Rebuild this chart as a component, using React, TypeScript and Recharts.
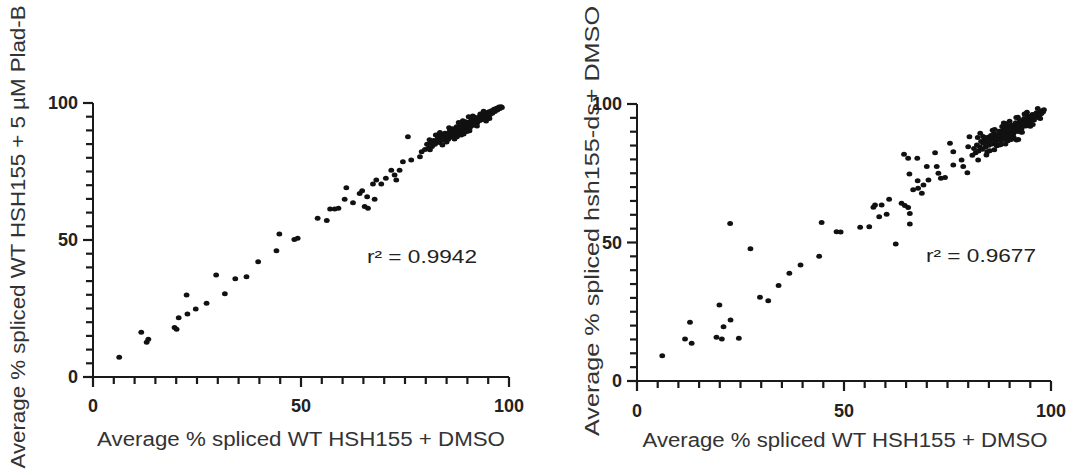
import React from 'react';
import {
  ScatterChart,
  Scatter,
  XAxis,
  YAxis,
  Customized,
} from 'recharts';

// left panel: WT + DMSO (x) vs WT + 5 uM Plad-B (y)
const dmsoA = [
  6.3, 11.6, 12.9, 13.3, 19.6, 20.1, 20.6, 22.5, 22.7, 24.7, 27.3, 29.6, 31.7, 34.2, 36.9, 39.7,
  44.1, 44.8, 48.4, 49.2, 54.0, 56.2, 57.0, 58.1, 59.0, 60.9, 60.5, 62.5, 64.1, 64.7, 65.3, 66.1,
  65.9, 67.7, 67.3, 68.1, 69.3, 70.4, 71.7, 72.5, 72.9, 73.7, 75.7, 74.5, 76.5, 78.6, 79.0,
  79.8, 80.3, 80.7, 81.2, 81.5, 81.9, 82.2, 82.6, 82.9, 83.3, 83.6, 83.8, 84.1, 84.4, 84.6, 84.9,
  85.2, 85.4, 85.7, 85.9, 86.1, 86.3, 86.6, 86.8, 87.0, 87.2, 87.4, 87.6, 87.8, 88.0, 88.2, 88.4,
  88.6, 88.8, 89.0, 89.2, 89.4, 89.6, 89.8, 90.0, 90.2, 90.4, 90.6, 90.8, 91.0, 91.2, 91.4, 91.6,
  91.8, 92.0, 92.2, 92.4, 92.6, 92.8, 93.0, 93.2, 93.4, 93.6, 93.8, 94.0, 94.2, 94.4, 94.6, 94.8,
  95.0, 95.2, 95.4, 95.6, 95.8, 96.0, 96.2, 96.4, 96.6, 96.8, 97.0, 97.2, 97.4, 97.6, 97.8, 98.1,
  98.3, 86.5, 87.5, 88.5, 89.5, 90.5, 91.5, 89.1, 90.9, 92.1, 93.1, 85.0, 83.0, 81.0,
  82.4, 84.0, 85.6, 86.9, 88.9, 89.9, 91.3, 92.3, 93.9, 95.3, 80.9, 87.9, 90.3, 94.5, 83.4,
];
const pladB = [
  7.2, 16.3, 12.7, 13.8, 18.1, 17.4, 21.6, 29.9, 23.0, 24.8, 26.9, 37.2, 30.4, 35.9, 36.6, 42.1,
  46.1, 52.2, 50.2, 50.6, 57.9, 57.1, 61.3, 61.3, 61.6, 69.1, 64.9, 63.6, 67.0, 68.0, 62.2, 61.6,
  65.8, 64.9, 70.4, 71.9, 70.4, 72.5, 75.5, 73.7, 71.9, 75.5, 87.7, 78.6, 79.2, 80.4, 82.2,
  83.0, 84.9, 83.6, 85.4, 84.1, 86.3, 84.9, 85.8, 87.2, 85.6, 86.9, 88.1, 86.4, 87.8, 89.0, 87.1,
  88.6, 86.8, 89.5, 88.2, 87.6, 90.1, 88.9, 87.9, 90.4, 89.2, 91.3, 88.6, 90.0, 91.5, 88.9, 90.8,
  92.2, 89.8, 91.2, 90.3, 92.6, 91.0, 89.9, 92.4, 91.6, 93.1, 91.0, 92.5, 93.6, 91.8, 92.9, 94.0,
  92.3, 93.5, 94.5, 92.9, 94.1, 95.0, 93.6, 94.6, 95.5, 94.0, 95.1, 96.0, 94.6, 95.6, 96.4, 95.1,
  96.0, 96.8, 95.7, 96.6, 97.2, 96.3, 97.1, 97.7, 96.9, 97.6, 98.1, 97.4, 98.0, 98.5, 98.0, 98.6,
  98.4, 90.6, 87.7, 88.3, 93.2, 89.9, 95.0, 88.7, 94.6, 92.0, 96.0, 85.8, 88.4, 82.9,
  88.3, 84.7, 91.0, 86.9, 93.5, 89.6, 95.3, 91.6, 97.0, 94.3, 86.6, 92.9, 95.0, 93.4, 89.2,
];

// right panel: WT + DMSO (x) vs hsh155-ds + DMSO (y)
const dmsoB = [
  6.1, 11.6, 12.8, 13.2, 19.9, 19.2, 20.5, 20.9, 22.6, 22.5, 24.6, 27.4, 29.7, 31.7, 34.2, 36.8,
  39.5, 44.0, 44.6, 48.2, 49.2, 53.9, 56.1, 57.1, 57.5, 59.1, 58.5, 60.3, 60.9, 62.5, 63.9, 64.7,
  65.5, 65.9, 65.9, 64.5, 65.5, 67.7, 65.8, 67.8, 66.7, 67.9, 68.8, 69.2, 70.4, 70.0, 72.0, 72.4,
  72.8, 73.4, 74.4, 75.6, 76.4, 76.4, 78.4, 78.8, 79.8, 80.3, 82.9, 80.0, 82.4, 91.7, 92.1,
  81.0, 81.4, 81.8, 82.1, 82.5, 82.8, 83.1, 83.4, 83.7, 84.0, 84.2, 84.5, 84.8, 85.0, 85.3, 85.5,
  85.8, 86.0, 86.2, 86.5, 86.7, 86.9, 87.1, 87.3, 87.5, 87.7, 87.9, 88.1, 88.3, 88.5, 88.7, 88.9,
  89.1, 89.3, 89.5, 89.7, 89.9, 90.1, 90.3, 90.5, 90.7, 90.9, 91.1, 91.3, 91.5, 91.7, 91.9, 92.1,
  92.3, 92.5, 92.7, 92.9, 93.1, 93.3, 93.5, 93.7, 93.9, 94.1, 94.3, 94.5, 94.7, 94.9, 95.1, 95.3,
  95.5, 95.7, 95.9, 96.1, 96.3, 96.5, 96.7, 96.9, 97.1, 97.3, 97.5, 97.7, 97.9, 98.1, 98.3,
  83.6, 85.9, 84.6, 87.4, 89.0, 90.0, 91.0, 92.0, 93.0, 94.0, 95.0, 88.6, 86.3, 82.3, 89.6,
  83.9, 85.2, 86.4, 87.8, 89.2, 90.4, 91.6, 92.8, 94.2, 95.6, 96.8, 84.4, 88.2, 93.6, 97.4,
];
const hsh155ds = [
  9.1, 15.2, 21.2, 13.6, 27.4, 15.8, 15.2, 19.6, 22.0, 56.9, 15.4, 47.7, 30.2, 29.0, 34.5, 38.9,
  41.9, 45.0, 57.2, 53.9, 53.8, 55.5, 55.7, 62.7, 63.5, 63.5, 59.3, 60.2, 65.6, 49.5, 64.2, 63.4,
  62.6, 60.5, 56.7, 81.9, 80.4, 80.4, 74.7, 72.3, 69.0, 69.6, 67.8, 70.8, 72.6, 77.4, 82.4, 77.4,
  75.0, 73.2, 73.5, 85.8, 82.8, 78.0, 79.8, 77.4, 75.2, 88.2, 89.4, 84.6, 79.8, 87.0, 87.2,
  81.5, 83.9, 82.4, 85.2, 83.0, 84.6, 86.5, 83.7, 85.8, 87.4, 84.5, 86.2, 88.0, 85.1, 86.9, 88.6,
  85.6, 87.5, 89.3, 86.2, 88.0, 84.9, 89.0, 87.1, 90.2, 88.4, 86.6, 89.6, 87.8, 91.0, 89.0, 87.2,
  90.3, 88.6, 91.6, 89.8, 88.1, 91.2, 89.6, 92.4, 90.7, 89.2, 92.0, 90.6, 93.2, 91.5, 90.1, 92.9,
  91.4, 94.0, 92.4, 91.2, 93.6, 92.5, 94.8, 93.3, 92.1, 94.5, 93.4, 95.6, 94.2, 93.1, 95.3, 94.4,
  96.2, 95.1, 94.2, 96.0, 95.4, 96.8, 95.9, 95.1, 96.7, 96.1, 97.2, 96.6, 97.6, 97.2, 97.9,
  88.3, 90.5, 82.8, 85.2, 85.6, 93.8, 87.9, 95.2, 89.8, 96.5, 92.0, 93.1, 83.5, 87.9, 86.7,
  87.9, 83.1, 90.8, 85.3, 92.9, 87.2, 95.1, 89.9, 97.0, 92.6, 98.4, 81.6, 91.9, 96.4, 94.8,
];

// every 5 gets a tick, every 50 gets a label
const axisTicks = [0, 5, 10, 15, 20, 25, 30, 35, 40, 45, 50, 55, 60, 65, 70, 75, 80, 85, 90, 95, 100];

const INK = '#1a1a1a';
const TEXT = '#333';
const FONT = '"Liberation Sans", Arial, sans-serif';

const toPoints = (xs: number[], ys: number[]) => xs.map((x, i) => ({ x, y: ys[i] }));

const Dot = (p: any) => <ellipse cx={p.cx} cy={p.cy} rx={2.9} ry={2.5} fill="#111" />;

const makeXTick = (labelOffset: number) => ({ x, y, payload }: any) => {
  const major = payload.value % 50 === 0;
  return (
    <g>
      <line x1={x} x2={x} y1={y} y2={y + (major ? 10 : 7)} stroke={INK} strokeWidth={2.2} />
      {major && (
        <text x={x} y={y + labelOffset} textAnchor="middle" fontFamily={FONT} fontWeight="bold" fontSize={18} fill="#222">
          {payload.value}
        </text>
      )}
    </g>
  );
};

const YTick = ({ x, y, payload }: any) => {
  const major = payload.value % 50 === 0;
  return (
    <g>
      <line x1={x} x2={x - (major ? 10 : 7)} y1={y} y2={y} stroke={INK} strokeWidth={2.2} />
      {major && (
        <text x={x - 15} y={y} dy="0.36em" textAnchor="end" fontFamily={FONT} fontWeight="bold" fontSize={18} fill="#222">
          {payload.value}
        </text>
      )}
    </g>
  );
};

interface PanelProps {
  xs: number[];
  ys: number[];
  margin: { top: number; right: number; bottom: number; left: number };
  xTitle: string;
  yTitle: string;
  xTitlePos: [number, number, number];
  yTitlePos: [number, number, number];
  xLabelOffset: number;
  r2: string;
  r2Pos: [number, number, number];
}

function Panel(p: PanelProps) {
  const XTick = makeXTick(p.xLabelOffset);
  return (
    <ScatterChart width={537} height={475} margin={p.margin}>
      <XAxis
        type="number"
        dataKey="x"
        domain={[0, 100]}
        ticks={axisTicks}
        interval={0}
        tickSize={0}
        tickMargin={0}
        tickLine={false}
        height={30}
        axisLine={{ stroke: INK, strokeWidth: 2 }}
        tick={XTick}
      />
      <YAxis
        type="number"
        dataKey="y"
        domain={[0, 100]}
        ticks={axisTicks}
        interval={0}
        tickSize={0}
        tickMargin={0}
        tickLine={false}
        width={60}
        axisLine={{ stroke: INK, strokeWidth: 2 }}
        tick={YTick}
      />
      <Scatter data={toPoints(p.xs, p.ys)} shape={Dot} isAnimationActive={false} />
      <Customized
        component={() => (
          <g fontFamily={FONT} fill={TEXT}>
            <text
              x={p.xTitlePos[0]}
              y={p.xTitlePos[1]}
              textAnchor="middle"
              fontSize={19.5}
              textLength={p.xTitlePos[2]}
              lengthAdjust="spacingAndGlyphs"
            >
              {p.xTitle}
            </text>
            <text
              x={p.yTitlePos[0]}
              y={p.yTitlePos[1]}
              transform={`rotate(-90 ${p.yTitlePos[0]} ${p.yTitlePos[1]})`}
              textAnchor="middle"
              dy="0.35em"
              fontSize={19.5}
              textLength={p.yTitlePos[2]}
              lengthAdjust="spacingAndGlyphs"
            >
              {p.yTitle}
            </text>
            <text
              x={p.r2Pos[0]}
              y={p.r2Pos[1]}
              fontSize={18}
              fill="#222"
              textLength={p.r2Pos[2]}
              lengthAdjust="spacingAndGlyphs"
            >
              {p.r2}
            </text>
          </g>
        )}
      />
    </ScatterChart>
  );
}

export default function App() {
  return (
    <div style={{ position: 'absolute', left: 0, top: 0, width: 1074, height: 475, background: '#fff' }}>
      <div style={{ position: 'absolute', left: 0, top: 0 }}>
        <Panel
          xs={dmsoA}
          ys={pladB}
          margin={{ top: 103, right: 28, bottom: 68, left: 33 }}
          xTitle="Average % spliced WT HSH155 + DMSO"
          yTitle="Average % spliced WT HSH155 + 5 µM Plad-B"
          xTitlePos={[301, 446, 408]}
          yTitlePos={[18, 237, 463]}
          xLabelOffset={35}
          r2="r² = 0.9942"
          r2Pos={[367, 263, 110]}
        />
      </div>
      <div style={{ position: 'absolute', left: 537, top: 0 }}>
        <Panel
          xs={dmsoB}
          ys={hsh155ds}
          margin={{ top: 104, right: 23, bottom: 64, left: 40 }}
          xTitle="Average % spliced WT HSH155 + DMSO"
          yTitle="Average % spliced hsh155-ds+ DMSO"
          xTitlePos={[308, 447, 405]}
          yTitlePos={[55, 221, 430]}
          xLabelOffset={36}
          r2="r² = 0.9677"
          r2Pos={[389, 262, 110]}
        />
      </div>
    </div>
  );
}
